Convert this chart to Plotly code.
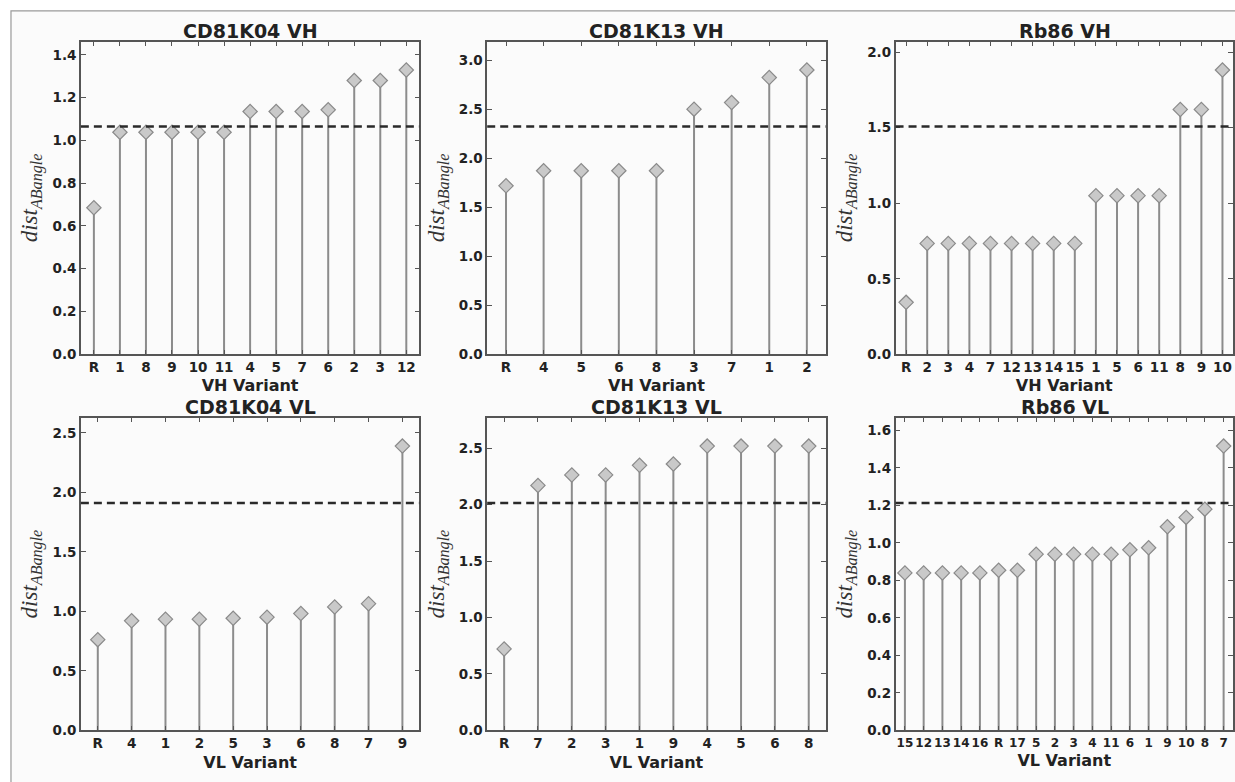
import plotly.graph_objects as go

W, H = 1235, 782

# ---------------- data ----------------
titles = ["CD81K04 VH", "CD81K13 VH", "Rb86 VH",
          "CD81K04 VL", "CD81K13 VL", "Rb86 VL"]
xlabels = ["VH Variant", "VH Variant", "VH Variant",
           "VL Variant", "VL Variant", "VL Variant"]

cd81k04_vh_cats = ["R", "1", "8", "9", "10", "11", "4", "5", "7", "6", "2", "3", "12"]
cd81k04_vh_vals = [0.685, 1.038, 1.038, 1.038, 1.038, 1.038, 1.135, 1.135, 1.135, 1.143, 1.280, 1.280, 1.329]
cd81k04_vh_thr = 1.065

cd81k13_vh_cats = ["R", "4", "5", "6", "8", "3", "7", "1", "2"]
cd81k13_vh_vals = [1.718, 1.872, 1.872, 1.872, 1.872, 2.500, 2.567, 2.822, 2.899]
cd81k13_vh_thr = 2.322

rb86_vh_cats = ["R", "2", "3", "4", "7", "12", "13", "14", "15", "1", "5", "6", "11", "8", "9", "10"]
rb86_vh_vals = [0.344, 0.734, 0.734, 0.734, 0.734, 0.734, 0.734, 0.734, 0.734,
                1.050, 1.050, 1.050, 1.050, 1.621, 1.621, 1.882]
rb86_vh_thr = 1.508

cd81k04_vl_cats = ["R", "4", "1", "2", "5", "3", "6", "8", "7", "9"]
cd81k04_vl_vals = [0.763, 0.921, 0.935, 0.935, 0.943, 0.952, 0.982, 1.038, 1.065, 2.389]
cd81k04_vl_thr = 1.912

cd81k13_vl_cats = ["R", "7", "2", "3", "1", "9", "4", "5", "6", "8"]
cd81k13_vl_vals = [0.722, 2.170, 2.263, 2.263, 2.348, 2.360, 2.518, 2.518, 2.518, 2.518]
cd81k13_vl_thr = 2.015

rb86_vl_cats = ["15", "12", "13", "14", "16", "R", "17", "5", "2", "3", "4", "11", "6", "1", "9", "10", "8", "7"]
rb86_vl_vals = [0.840, 0.840, 0.840, 0.840, 0.840, 0.854, 0.854, 0.940, 0.940, 0.940, 0.940, 0.940,
                0.963, 0.974, 1.086, 1.136, 1.180, 1.516]
rb86_vl_thr = 1.213

y_dticks = [0.2, 0.5, 0.5, 0.5, 0.5, 0.2]

panels = [
    (cd81k04_vh_cats, cd81k04_vh_vals, cd81k04_vh_thr),
    (cd81k13_vh_cats, cd81k13_vh_vals, cd81k13_vh_thr),
    (rb86_vh_cats, rb86_vh_vals, rb86_vh_thr),
    (cd81k04_vl_cats, cd81k04_vl_vals, cd81k04_vl_thr),
    (cd81k13_vl_cats, cd81k13_vl_vals, cd81k13_vl_thr),
    (rb86_vl_cats, rb86_vl_vals, rb86_vl_thr),
]

# ---------------- layout geometry (pixels) ----------------
col_px = [(81, 420), (488, 827), (897, 1237)]
row_px = [(42, 358), (422, 738)]

SPINE = "#555555"
STEM = "#8c8c8c"
MFILL = "#c9c9c9"
MEDGE = "#8a8a8a"
TXT = "#222222"

fig = go.Figure()
annotations = []
shapes = []

for i, (cats, vals, thr) in enumerate(panels):
    r, c = divmod(i, 3)
    xa = "x" if i == 0 else f"x{i+1}"
    ya = "y" if i == 0 else f"y{i+1}"
    x0p, x1p = col_px[c]
    t_px, b_px = row_px[r]
    xdom = [x0p / W, min(x1p / W, 1.0)]
    ydom = [1 - b_px / H, 1 - t_px / H]

    fig.add_trace(go.Scatter(
        x=cats, y=vals, mode="markers",
        xaxis=xa, yaxis=ya, showlegend=False,
        marker=dict(symbol="diamond", size=11, color=MFILL,
                    line=dict(color=MEDGE, width=1.2)),
        error_y=dict(type="data", symmetric=False,
                     array=[0] * len(vals), arrayminus=vals,
                     width=0, thickness=2, color=STEM),
        cliponaxis=False,
    ))

    ymax = max(vals) * 1.1
    xfs = 12 if len(cats) > 16 else 13.5
    axkey = "xaxis" if i == 0 else f"xaxis{i+1}"
    aykey = "yaxis" if i == 0 else f"yaxis{i+1}"
    fig.update_layout({
        axkey: dict(
            domain=xdom, anchor=ya, type="category",
            range=[-0.5, len(cats) - 0.5],
            showgrid=False, zeroline=False,
            showline=True, linecolor=SPINE, linewidth=1.5, mirror="ticks",
            ticks="inside", ticklen=5, tickcolor=SPINE, tickwidth=1,
            tickangle=0,
            tickfont=dict(family="DejaVu Sans", size=xfs, color=TXT, weight="bold"),
            title=dict(text=f"<b>{xlabels[i]}</b>", standoff=6,
                       font=dict(family="DejaVu Sans", size=16, color=TXT)),
            fixedrange=True,
        ),
        aykey: dict(
            domain=ydom, anchor=xa,
            range=[0, ymax], dtick=y_dticks[i], tick0=0, tickformat=".1f",
            showgrid=False, zeroline=False,
            showline=True, linecolor=SPINE, linewidth=1.5, mirror="ticks",
            ticks="inside", ticklen=5, tickcolor=SPINE, tickwidth=1,
            tickfont=dict(family="DejaVu Sans", size=13.5, color=TXT, weight="bold"),
            title=dict(text="<i>dist</i><sub><i>ABangle</i></sub>", standoff=8,
                       font=dict(family="Liberation Serif", size=23, color="#333333")),
            fixedrange=True,
        ),
    })

    # dashed threshold line
    shapes.append(dict(type="line", xref=f"{xa} domain", yref=ya,
                       x0=0, x1=1, y0=thr, y1=thr,
                       line=dict(color="#2a2a2a", width=2.5, dash="8px,5px")))

    # subplot title
    annotations.append(dict(
        text=f"<b>{titles[i]}</b>", xref="paper", yref="paper",
        x=(xdom[0] + xdom[1]) / 2 if c < 2 else (x0p + x1p) / 2 / W,
        y=ydom[1] - 2 / H,
        xanchor="center", yanchor="bottom", showarrow=False,
        font=dict(family="DejaVu Sans", size=19, color=TXT),
    ))

# outer frame of the original figure
shapes.append(dict(type="rect", xref="paper", yref="paper",
                   x0=11 / W, x1=1.02, y0=-0.02, y1=1 - 11 / H,
                   line=dict(color="#9a9a9a", width=1.2),
                   fillcolor="#fbfbfb", layer="below"))

fig.update_layout(
    width=W, height=H,
    margin=dict(l=0, r=0, t=0, b=0),
    paper_bgcolor="white", plot_bgcolor="rgba(0,0,0,0)",
    annotations=annotations, shapes=shapes,
    showlegend=False,
)

fig.write_html("out.html", config={"displayModeBar": False},
               post_script="document.body.style.margin='0px';document.body.style.overflow='hidden';")
